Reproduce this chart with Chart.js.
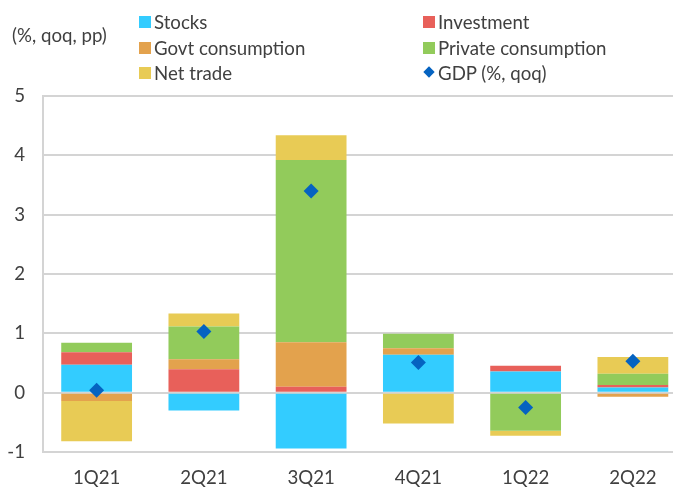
<!DOCTYPE html>
<html>
<head>
<meta charset="utf-8">
<script src="https://cdn.jsdelivr.net/npm/chart.js@4"></script>
<style>
  html, body { margin: 0; padding: 0; background: #fff; overflow: hidden; }
  #wrap { position: relative; width: 673px; height: 487px; overflow: hidden; }
  #cv { position: absolute; left: 0; top: 0; }
  .lg { position: absolute; font: 18.67px Lato, sans-serif; color: #404040; line-height: 22px; white-space: nowrap; }
  .sw { position: absolute; width: 12px; height: 12px; }
  .dm { position: absolute; width: 8px; height: 8px; background: #0563C1; transform: rotate(45deg); }
</style>
</head>
<body>
<div id="wrap">
  <canvas id="cv" width="694" height="487" style="width:694px;height:487px"></canvas>
  <div class="lg" style="left:12px;top:24px;">(%, qoq, pp)</div>

  <div class="sw" style="left:139px;top:16px;background:#33CCFF"></div>
  <div class="lg" style="left:154px;top:11px;">Stocks</div>
  <div class="sw" style="left:139px;top:42px;background:#E3A24D"></div>
  <div class="lg" style="left:154px;top:37px;">Govt consumption</div>
  <div class="sw" style="left:139px;top:67px;background:#E8CB55"></div>
  <div class="lg" style="left:154px;top:62px;">Net trade</div>

  <div class="sw" style="left:423px;top:16px;background:#E8605A"></div>
  <div class="lg" style="left:438px;top:11px;">Investment</div>
  <div class="sw" style="left:423px;top:42px;background:#92CB5B"></div>
  <div class="lg" style="left:438px;top:37px;">Private consumption</div>
  <div class="dm" style="left:425px;top:68px;"></div>
  <div class="lg" style="left:438px;top:62px;">GDP (%, qoq)</div>
</div>
<script>
const categories = ['1Q21', '2Q21', '3Q21', '4Q21', '1Q22', '2Q22'];
const stocks      = [0.47, -0.30, -0.94, 0.64, 0.355, 0.085];
const investment  = [0.21, 0.395, 0.10, 0.00, 0.10, 0.045];
const govt        = [-0.14, 0.17, 0.75, 0.11, 0.00, -0.07];
const privateCons = [0.16, 0.55, 3.07, 0.245, -0.64, 0.19];
const netTrade    = [-0.68, 0.22, 0.42, -0.52, -0.085, 0.28];
const gdp         = [0.04, 1.03, 3.40, 0.51, -0.25, 0.53];
const yTicks = [5, 4, 3, 2, 1, 0, -1];

const font = { family: 'Lato, sans-serif', size: 18.67 };
function bar(label, data, color) {
  return { type: 'bar', label, data, backgroundColor: color, borderWidth: 0,
           stack: 'a', barPercentage: 0.66, categoryPercentage: 1.0, order: 2 };
}
new Chart(document.getElementById('cv'), {
  data: {
    labels: categories,
    datasets: [
      { type: 'line', label: 'GDP (%, qoq)', data: gdp, showLine: false, stack: 'g',
        pointStyle: 'rectRot', pointRadius: 7.5, pointHoverRadius: 7.5,
        backgroundColor: '#0563C1', borderColor: '#0563C1', borderWidth: 0, order: 1 },
      bar('Stocks', stocks, '#33CCFF'),
      bar('Investment', investment, '#E8605A'),
      bar('Govt consumption', govt, '#E3A24D'),
      bar('Private consumption', privateCons, '#92CB5B'),
      bar('Net trade', netTrade, '#E8CB55')
    ]
  },
  options: {
    responsive: false,
    animation: false,
    devicePixelRatio: 1,
    layout: { padding: { top: 96, left: 0, right: 0, bottom: 0 } },
    plugins: { legend: { display: false }, tooltip: { enabled: false } },
    scales: {
      x: {
        stacked: true,
        grid: { display: false, drawTicks: false },
        border: { display: true, color: '#d4d4d4', width: 2 },
        ticks: { font, color: '#404040', padding: 15, maxRotation: 0 },
        afterFit: s => { s.height = 35; }
      },
      y: {
        stacked: true,
        min: -1, max: 5,
        afterBuildTicks: s => { s.ticks = yTicks.map(v => ({ value: v })); },
        grid: { color: '#d4d4d4', lineWidth: 2, drawTicks: false },
        border: { display: true, color: '#d4d4d4', width: 2 },
        ticks: { font, color: '#404040', padding: 18 },
        afterFit: s => { s.width = 43; }
      }
    }
  }
});
</script>
</body>
</html>
